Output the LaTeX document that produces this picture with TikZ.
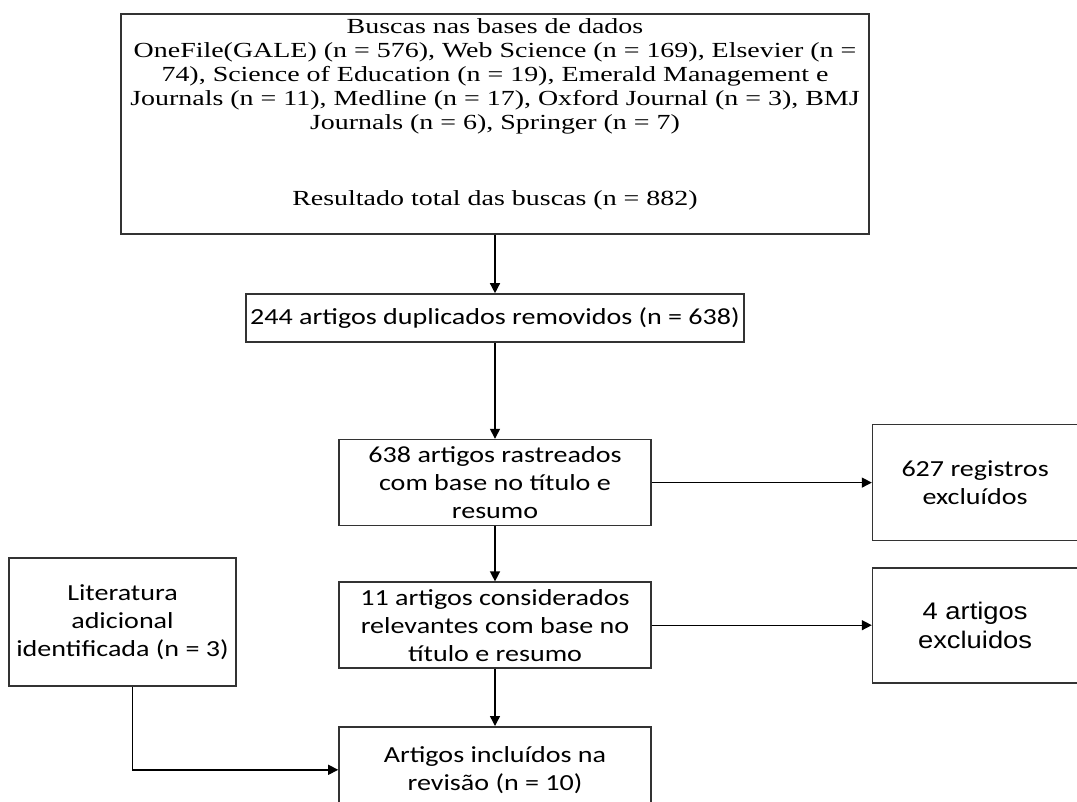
\documentclass[tikz,border=0pt]{standalone}
\usepackage{fontspec}
\setmainfont{Liberation Serif}[FakeStretch=1.3]
\newfontfamily\calibrif{Carlito}[FakeStretch=1.22]
\newfontfamily\arialf{Liberation Sans}[FakeStretch=1.14]
\usetikzlibrary{positioning, arrows.meta}

\begin{document}
\begin{tikzpicture}[x=1pt, y=1pt,
		caixa/.style={rectangle, draw=black!80, line width=1.6pt, align=center, inner sep=2pt, font=\calibrif\fontsize{23}{28}\selectfont},
		larga/.style={caixa, minimum width=312pt, minimum height=86pt},
		lateral/.style={caixa, minimum width=205pt},
		fonte/.style={caixa, font=\fontsize{21.5}{24}\selectfont},
		seta/.style={-{Triangle[length=10pt, width=10pt]}, line width=1.4pt},
		>=Triangle
	]
	\useasboundingbox (0,0) rectangle (1077,-802);

	\node[fonte, minimum width=748pt, minimum height=220pt, text depth=24pt] (busca) at (495,-124) {Buscas nas bases de dados\\
		OneFile(GALE) (n = 576), Web Science (n = 169), Elsevier (n =\\
		74), Science of Education (n = 19), Emerald Management e\\
		Journals (n = 11), Medline (n = 17), Oxford Journal (n = 3), BMJ\\
		Journals (n = 6), Springer (n = 7)\\[52pt]
		Resultado total das buscas (n = 882)};
	\node[caixa, minimum width=498pt, minimum height=48pt] (duplic) at (495,-318) {244 artigos duplicados removidos (n = 638)};
	\node[larga, below=96pt of duplic] (rastreio) {638 artigos rastreados\\com base no título e\\resumo};
	\node[larga, below=55pt of rastreio] (relev) {11 artigos considerados\\relevantes com base no\\título e resumo};
	\node[larga, below=57pt of relev] (inclu) {Artigos incluídos na\\revisão (n = 10)};
	\node[lateral, minimum height=116pt, right=220pt of rastreio] (registros) {627 registros\\excluídos};
	\node[lateral, minimum height=115pt, right=220pt of relev, font=\arialf\fontsize{24}{28.5}\selectfont] (excl4) {4 artigos\\excluidos};
	\node[caixa, minimum width=227pt, minimum height=128pt] (literat) at (122.5,-622) {Literatura\\adicional\\identificada (n = 3)};

	\draw[seta] (busca.south -| rastreio.north) -- (duplic.north -| rastreio.north);
	\draw[seta] (duplic.south -| rastreio.north) -- (rastreio.north);
	\foreach \i/\j in {rastreio/relev, relev/inclu}
		\draw[seta] (\i.south) -- (\j.north);
	\foreach \i/\j in {rastreio/registros, relev/excl4}
		\draw[seta] (\i.east) -- (\j.west);
	\draw[seta] ([xshift=10pt]literat.south) |- (inclu.west);

\end{tikzpicture}
\end{document}
